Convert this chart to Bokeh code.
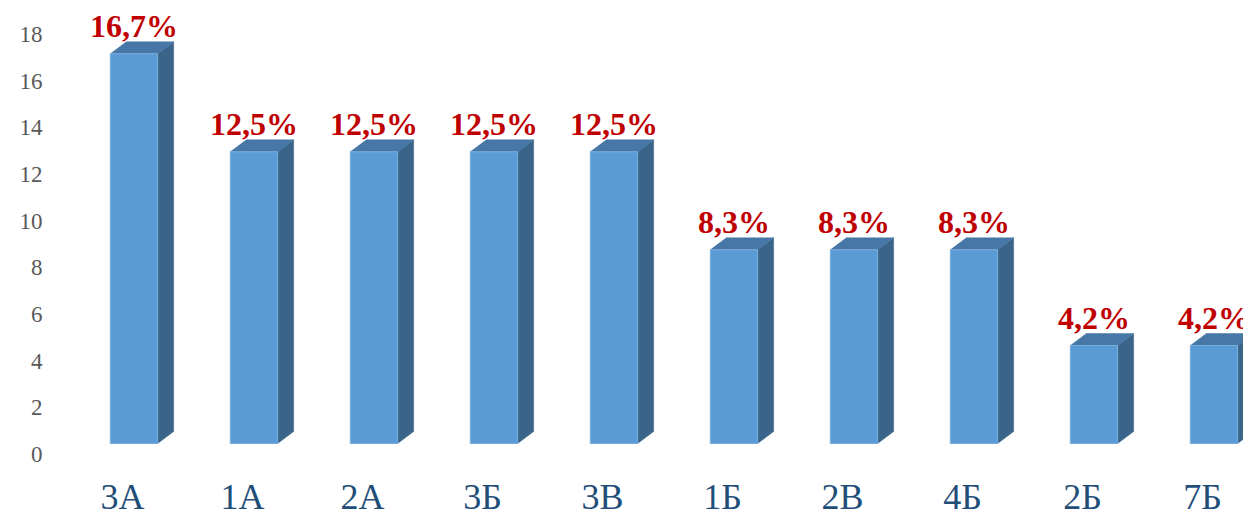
from bokeh.plotting import figure
from bokeh.models import Range1d, LinearAxis, FixedTicker, ColumnDataSource
from bokeh.embed import file_html
from bokeh.resources import INLINE
from bokeh.core.properties import value

# ---- data ----
categories = ["3А", "1А", "2А", "3Б", "3В", "1Б", "2В", "4Б", "2Б", "7Б"]
values = [16.7, 12.5, 12.5, 12.5, 12.5, 8.3, 8.3, 8.3, 4.2, 4.2]
labels = ["16,7%", "12,5%", "12,5%", "12,5%", "12,5%", "8,3%", "8,3%", "8,3%", "4,2%", "4,2%"]
y_ticks = [0, 2, 4, 6, 8, 10, 12, 14, 16, 18]

# ---- layout constants ----
FRAME_W, FRAME_H = 1193, 458
PX_X = 120.0            # pixels per category
PX_Y = 420.0 / 18.0     # pixels per value unit
BAR_OFF = 11.5 / PX_X   # front face centre offset from category tick
BAR_W = 47.3 / PX_X
DX = 16.0 / PX_X        # 3D depth, x
DY = 12.0 / PX_Y        # 3D depth, y

x_start = -72.0 / PX_X
y_start = -15.0 / PX_Y
lab_start = -4.0 / PX_Y

p = figure(frame_width=FRAME_W, frame_height=FRAME_H,
           x_range=Range1d(x_start, x_start + FRAME_W / PX_X),
           y_range=Range1d(y_start, y_start + FRAME_H / PX_Y),
           y_axis_location=None, toolbar_location=None,
           output_backend="svg", min_border_left=50, min_border_right=0,
           min_border_top=0, min_border_bottom=50)
p.extra_y_ranges = {"lab": Range1d(lab_start, lab_start + FRAME_H / PX_Y)}
p.outline_line_color = None
p.xgrid.visible = False
p.ygrid.visible = False
p.background_fill_color = "white"
p.border_fill_color = "white"

xc = [i + BAR_OFF for i in range(len(values))]
left = [x - BAR_W / 2 for x in xc]
right = [x + BAR_W / 2 for x in xc]

# side faces
side_xs = [[r, r + DX, r + DX, r] for r in right]
side_ys = [[0, DY, v + DY, v] for v in values]
p.patches(side_xs, side_ys, fill_color="#3A6489", line_color="#3A6489", line_width=0.5)
# top faces
top_xs = [[l, l + DX, r + DX, r] for l, r in zip(left, right)]
top_ys = [[v, v + DY, v + DY, v] for v in values]
p.patches(top_xs, top_ys, fill_color="#4677A7", line_color="#4677A7", line_width=0.5)
# front faces
src = ColumnDataSource(dict(x=xc, top=values, lab=labels))
p.vbar(x="x", top="top", bottom=0, width=BAR_W, source=src,
       fill_color="#5B9BD5", line_color="#7AAEDD", line_width=1)

p.text(x="x", y="top", text="lab", source=src, text_align="center",
       text_baseline="alphabetic", y_offset=-28,
       text_font=value("Times New Roman"), text_font_style="bold",
       text_font_size="32px", text_color="#C00000")

# x axis
xa = p.xaxis[0]
xa.ticker = FixedTicker(ticks=list(range(len(categories))))
xa.major_label_overrides = {i: c for i, c in enumerate(categories)}
xa.axis_line_color = None
xa.major_tick_line_color = None
xa.minor_tick_line_color = None
xa.major_tick_out = 0
xa.major_label_standoff = 18
xa.major_label_text_font = "Times New Roman"
xa.major_label_text_font_size = "36px"
xa.major_label_text_color = "#1F4E79"

# y axis
ya = LinearAxis(y_range_name="lab", ticker=FixedTicker(ticks=y_ticks))
ya.axis_line_color = None
ya.major_tick_line_color = None
ya.minor_tick_line_color = None
ya.major_tick_out = 0
ya.major_label_standoff = 8
ya.major_label_text_font = "Times New Roman"
ya.major_label_text_font_size = "23px"
ya.major_label_text_color = "#595959"
p.add_layout(ya, "left")

open("out.html", "w").write(file_html(p, INLINE))
